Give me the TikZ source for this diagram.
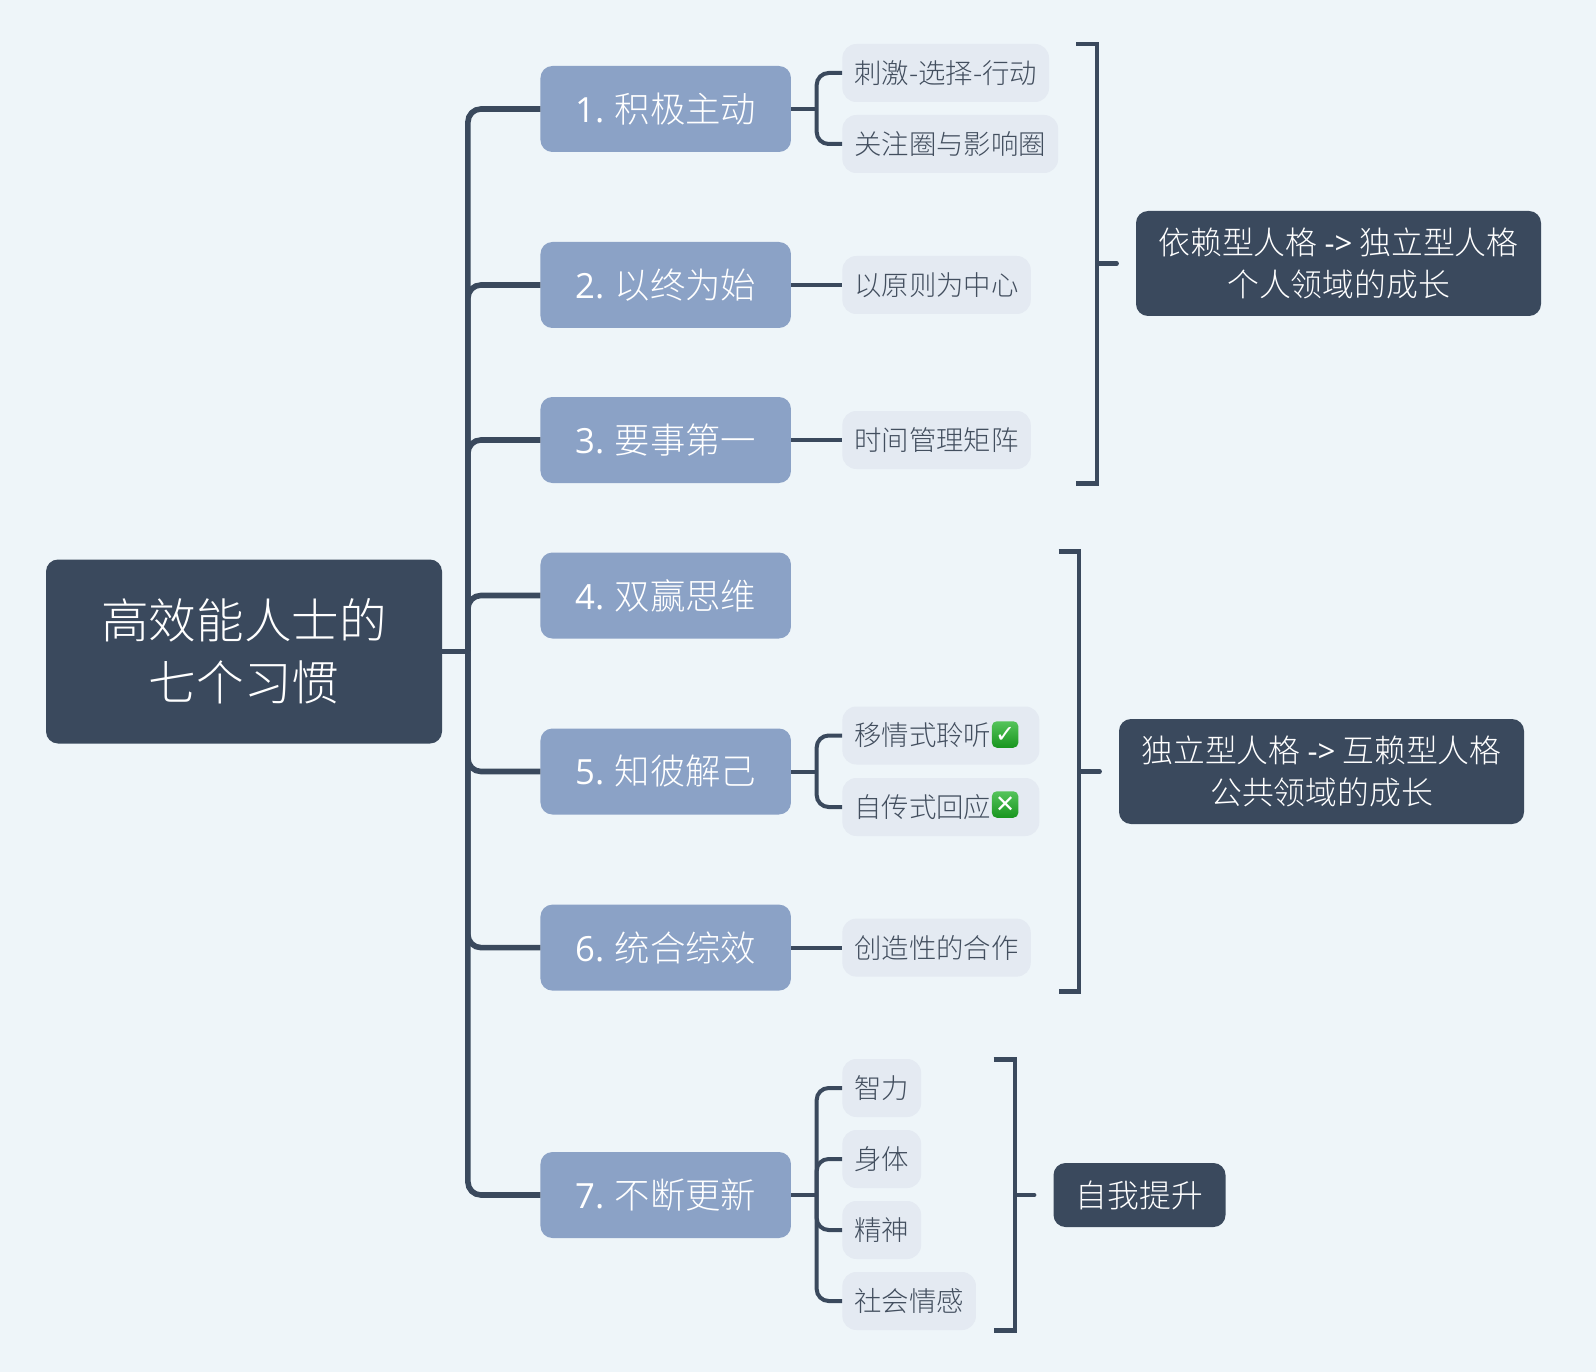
\documentclass[tikz,border=0pt]{standalone}
\usepackage{fontspec}
\usepackage{xcolor}
\usepackage{tikz}
\usetikzlibrary{positioning}
\usetikzlibrary{calc}
\setmainfont{Open Sans}
\newfontfamily\cjk{Noto Sans CJK SC Light}
\newfontfamily\latn[Scale=0.98]{Open Sans}
\newfontfamily\markfont{DejaVu Sans}
\definecolor{bgcolor}{RGB}{238,245,249}
\definecolor{darkcolor}{RGB}{58,73,93}
\definecolor{branchcolor}{RGB}{139,162,198}
\definecolor{subcolor}{RGB}{228,234,242}
\definecolor{subtext}{RGB}{66,78,94}
\definecolor{markcolor}{RGB}{28,176,36}

\begin{document}
\begin{tikzpicture}[
    x=1pt, y=-1pt,
    node distance=51pt,
    rootbox/.style={rectangle, fill=darkcolor, text=white, minimum width=396pt, minimum height=184pt, align=center, rounded corners=12pt, font=\fontsize{47.6}{62}\selectfont\cjk},
    branchbox/.style={rectangle, fill=branchcolor, text=white, minimum width=250.5pt, minimum height=86pt, align=center, rounded corners=12pt, font=\fontsize{35.4}{42}\selectfont\cjk},
    subbox/.style={rectangle, fill=subcolor, text=subtext, minimum height=58pt, inner xsep=12pt, rounded corners=14pt, font=\fontsize{27.4}{32}\selectfont\cjk},
    sumbox/.style={rectangle, fill=darkcolor, text=white, minimum height=105pt, minimum width=405pt, align=center, rounded corners=12pt, font=\fontsize{31.8}{42}\selectfont\cjk},
    markbox/.style={rectangle, top color=markcolor!75!white, bottom color=markcolor!85!black, text=white, minimum size=26.5pt, inner sep=0pt, rounded corners=5pt, font=\fontsize{24}{24}\selectfont\markfont\bfseries},
    branchline/.style={draw=darkcolor, line width=5.6pt, rounded corners=13pt},
    subline/.style={draw=darkcolor, line width=4pt, rounded corners=12pt},
    bracket/.style={draw=darkcolor, line width=4.2pt}
]

\useasboundingbox[fill=bgcolor] (0,0) rectangle (1596,1372);

% Root
\node[rootbox] (root) at (244,651.5) {高效能人士的\\七个习惯};

% Branches
\node[branchbox] (b1) at (665.7,109) {{\latn 1.} 积极主动};
\node[branchbox, below=89.6pt of b1] (b2) {{\latn 2.} 以终为始};
\node[branchbox, below=68.6pt of b2] (b3) {{\latn 3.} 要事第一};
\node[branchbox, below=69.1pt of b3] (b4) {{\latn 4.} 双赢思维};
\node[branchbox, below=89.6pt of b4] (b5) {{\latn 5.} 知彼解己};
\node[branchbox, below=89.7pt of b5] (b6) {{\latn 6.} 统合综效};
\node[branchbox, below=161pt of b6] (b7) {{\latn 7.} 不断更新};

% Details
\node[subbox, right=51pt of b1, yshift=36pt] (s1a) {刺激-选择-行动};
\node[subbox, right=51pt of b1, yshift=-35pt] (s1b) {关注圈与影响圈};
\node[subbox, right=51pt of b2] (s2) {以原则为中心};
\node[subbox, right=51pt of b3] (s3) {时间管理矩阵};
\node[subbox, right=51pt of b5, yshift=36pt] (s5a) {移情式聆听\rule{36pt}{0pt}};
\node[subbox, right=51pt of b5, yshift=-35.5pt] (s5b) {自传式回应\rule{36pt}{0pt}};
\node[subbox, right=51pt of b6] (s6) {创造性的合作};
\node[subbox, right=51pt of b7, yshift=107pt] (s7a) {智力};
\node[subbox, right=51pt of b7, yshift=36pt] (s7b) {身体};
\node[subbox, right=51pt of b7, yshift=-35pt] (s7c) {精神};
\node[subbox, right=51pt of b7, yshift=-106pt] (s7d) {社会情感};

% Marks
\node[markbox, left=21pt of s5a.east, yshift=1pt] (okmark) {✓};
\node[markbox, left=21pt of s5b.east, yshift=2.5pt] (nomark) {✕};

% Summaries
\node[sumbox] (sum1) at (1338.5,263.5) {依赖型人格 {\latn ->} 独立型人格\\个人领域的成长};
\node[sumbox] (sum2) at (1321.5,771.5) {独立型人格 {\latn ->} 互赖型人格\\公共领域的成长};
\node[sumbox, minimum width=172pt, minimum height=64pt] (sum3) at (1139.5,1195) {自我提升};

% Spine
\coordinate[right=25.7pt of root.east] (spine);
\draw[branchline] (b1.west) -| (spine) |- (b7.west);
\draw[branchline] (root.east) -- (spine);
\draw[branchline] (spine) |- (b2.west);
\draw[branchline] (spine) |- (b3.west);
\draw[branchline] (spine) |- (b4.west);
\draw[branchline] (spine) |- (b5.west);
\draw[branchline] (spine) |- (b6.west);

% Forks
\coordinate[right=25.5pt of b1.east] (fork1);
\coordinate[right=25.5pt of b5.east] (fork5);
\coordinate[right=25.5pt of b7.east] (fork7);
\draw[subline] (b1.east) -- (fork1);
\draw[subline] (s1a.west) -| (fork1) |- (s1b.west);
\draw[subline] (b2.east) -- (s2.west);
\draw[subline] (b3.east) -- (s3.west);
\draw[subline] (b5.east) -- (fork5);
\draw[subline] (s5a.west) -| (fork5) |- (s5b.west);
\draw[subline] (b6.east) -- (s6.west);
\draw[subline] (b7.east) -- (fork7);
\draw[subline] (s7a.west) -| (fork7) |- (s7d.west);
\draw[subline] (fork7) |- (s7b.west);
\draw[subline] (fork7) |- (s7c.west);

% Brackets
\coordinate (brace1a) at (1076,44);
\coordinate (brace1b) at (1076,483.5);
\coordinate (brace1m) at (1097.3,263.5);
\coordinate (brace2a) at (1058.5,551.5);
\coordinate (brace2b) at (1058.5,991.5);
\coordinate (brace2m) at (1079.3,771.5);
\coordinate (brace3a) at (993.5,1059.5);
\coordinate (brace3b) at (993.5,1330.5);
\coordinate (brace3m) at (1015.3,1195);
\draw[bracket] (brace1a) -| (brace1m) |- (brace1b);
\draw[bracket] (brace2a) -| (brace2m) |- (brace2b);
\draw[bracket] (brace3a) -| (brace3m) |- (brace3b);
\draw[bracket, line cap=round, shorten >=19pt] (brace1m) -- (sum1.west);
\draw[bracket, line cap=round, shorten >=19pt] (brace2m) -- (sum2.west);
\draw[bracket, line cap=round, shorten >=19pt] (brace3m) -- (sum3.west);

\end{tikzpicture}
\end{document}
